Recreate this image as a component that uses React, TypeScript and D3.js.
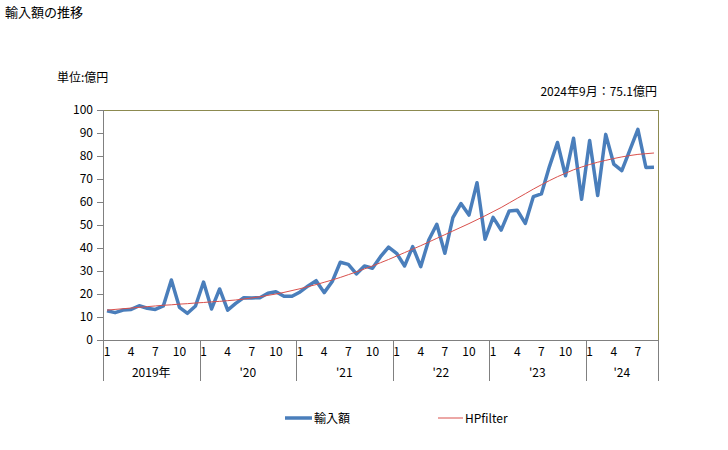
import React from "react";
import * as d3 from "d3";

const years = ["2019年", "'20", "'21", "'22", "'23", "'24"];
const monthsPerYear = [12, 12, 12, 12, 12, 9];
const monthTickLabels = ["1", "4", "7", "10"];
const yTicks = [0, 10, 20, 30, 40, 50, 60, 70, 80, 90, 100];

const imports = [
  12.7, 11.9, 13.0, 13.3, 14.9, 13.8, 13.3, 14.8, 26.1, 14.2, 11.6, 14.8,
  25.2, 13.5, 22.2, 13.0, 15.9, 18.4, 18.3, 18.4, 20.3, 21.0, 19.0, 19.0,
  20.9, 23.5, 25.8, 20.6, 25.4, 33.8, 32.9, 28.7, 32.2, 31.2, 36.2, 40.4,
  37.7, 32.2, 40.6, 31.9, 43.5, 50.3, 37.7, 53.2, 59.3, 54.3, 68.4, 43.8,
  53.3, 47.8, 56.1, 56.4, 50.7, 62.3, 63.5, 75.4, 85.9, 71.4, 87.7, 61.2,
  86.7, 62.8, 89.4, 76.5, 73.6, 82.6, 91.6, 75.0, 75.1,
];

const hpFilter = [
  13.0, 13.3, 13.6, 13.9, 14.2, 14.5, 14.8, 15.1, 15.3, 15.6, 15.8, 16.1,
  16.3, 16.6, 16.8, 17.1, 17.4, 17.8, 18.3, 18.8, 19.4, 20.0, 20.7, 21.5,
  22.3, 23.2, 24.1, 25.1, 26.1, 27.2, 28.4, 29.6, 30.9, 32.2, 33.6, 35.0,
  36.5, 38.0, 39.5, 41.0, 42.6, 44.2, 45.8, 47.4, 49.0, 50.6, 52.3, 54.0,
  55.8, 57.6, 59.6, 61.6, 63.6, 65.6, 67.5, 69.3, 71.0, 72.5, 74.0, 75.2,
  76.3, 77.3, 78.1, 78.9, 79.6, 80.2, 80.7, 81.0, 81.3,
];

const W = 728;
const H = 450;
const left = 103;
const right = 658;
const top = 110;
const bottom = 340;
const font = "'Noto Sans CJK JP', 'Noto Sans', sans-serif";

export default function App() {
  const n = imports.length;
  const idx = d3.range(n);
  const x = d3.scaleBand<number>().domain(idx).range([left, right]).padding(0);
  const cx = (i: number) => (x(i) as number) + x.bandwidth() / 2;
  const y = d3.scaleLinear().domain([0, 100]).range([bottom, top]);

  const line = d3
    .line<number>()
    .x((_, i) => cx(i))
    .y((v) => y(v));

  // year groups
  const groups: { label: string; start: number; count: number }[] = [];
  let s = 0;
  years.forEach((label, k) => {
    groups.push({ label, start: s, count: monthsPerYear[k] });
    s += monthsPerYear[k];
  });

  return (
    <svg
      width={W}
      height={H}
      style={{ position: "absolute", left: 0, top: 0, background: "#fff" }}
      fontFamily={font}
    >
      <rect x={0} y={0} width={W} height={H} fill="#fff" />
      <text x={5} y={17} fontSize={13} fill="#000">輸入額の推移</text>
      <text x={57} y={82} fontSize={12} fill="#000">単位:億円</text>
      <text x={657} y={96} fontSize={12} fill="#000" textAnchor="end">
        2024年9月：75.1億円
      </text>

      {/* plot frame top/right */}
      <line x1={left} x2={right} y1={top + 0.5} y2={top + 0.5} stroke="#8c8a50" strokeWidth={1} />
      <line x1={right + 0.5} x2={right + 0.5} y1={top} y2={bottom} stroke="#8c8a50" strokeWidth={1} />

      {/* y axis */}
      <line x1={left + 0.5} x2={left + 0.5} y1={top} y2={bottom} stroke="#808080" />
      {yTicks.map((t) => (
        <g key={t}>
          <line x1={left - 6} x2={left} y1={Math.round(y(t)) + 0.5} y2={Math.round(y(t)) + 0.5} stroke="#808080" />
          <text x={left - 10} y={y(t) + 4} fontSize={12} textAnchor="end" fill="#000">
            {t}
          </text>
        </g>
      ))}

      {/* x axis */}
      <line x1={left} x2={right} y1={bottom + 0.5} y2={bottom + 0.5} stroke="#808080" />
      {groups.map((g) => {
        const x0 = x(g.start) as number;
        const x1 = g.start + g.count < n ? (x(g.start + g.count) as number) : right;
        return (
          <g key={g.label}>
            <line x1={Math.round(x0) + 0.5} x2={Math.round(x0) + 0.5} y1={bottom} y2={381} stroke="#808080" />
            {monthTickLabels.map((m) => {
              const mi = g.start + parseInt(m) - 1;
              if (parseInt(m) > g.count) return null;
              return (
                <text key={m} x={cx(mi)} y={356} fontSize={12} textAnchor="middle" fill="#000">
                  {m}
                </text>
              );
            })}
            <text x={(x0 + x1) / 2} y={377} fontSize={12} textAnchor="middle" fill="#000">
              {g.label}
            </text>
          </g>
        );
      })}
      <line x1={right + 0.5} x2={right + 0.5} y1={bottom} y2={381} stroke="#808080" />

      {/* series */}
      <path d={line(imports) as string} fill="none" stroke="#4a7ebb" strokeWidth={3.5} strokeLinejoin="round" />
      <path d={line(hpFilter) as string} fill="none" stroke="#d9504c" strokeWidth={1} />

      {/* legend */}
      <line x1={285} x2={312} y1={418} y2={418} stroke="#4a7ebb" strokeWidth={3.5} />
      <text x={314} y={423} fontSize={12} fill="#000">輸入額</text>
      <line x1={438} x2={463} y1={418} y2={418} stroke="#d9504c" strokeWidth={1} />
      <text x={465} y={423} fontSize={12} fill="#000">HPfilter</text>
    </svg>
  );
}
